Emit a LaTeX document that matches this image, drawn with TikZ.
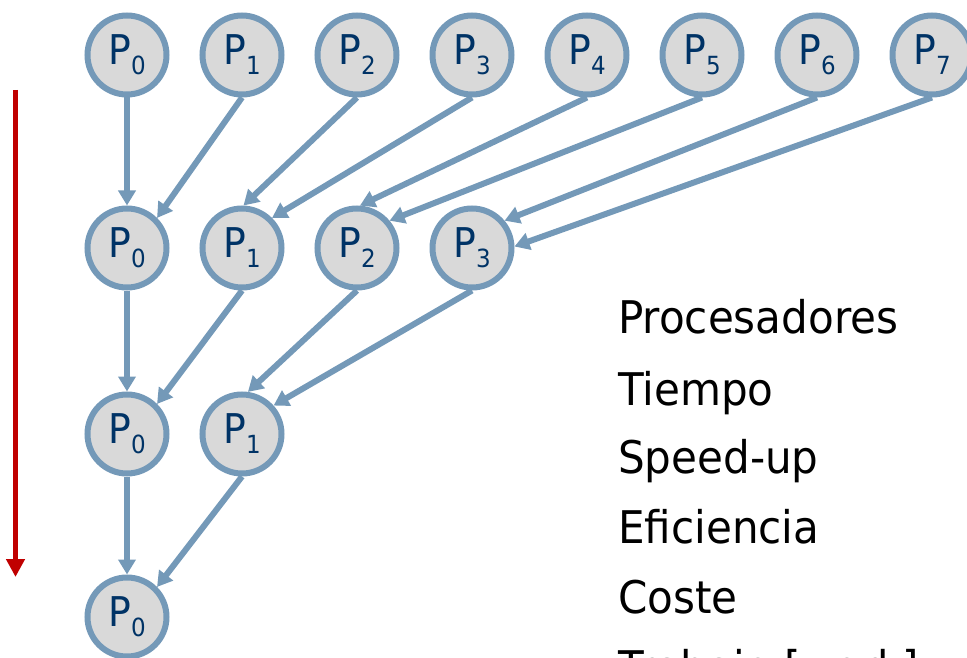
\documentclass[tikz,border=0pt]{standalone}
\usepackage{fontspec}
\setmainfont[FakeStretch=0.92]{DejaVu Sans}
\newfontfamily\listfont[FakeStretch=0.935]{DejaVu Sans}
\usetikzlibrary{arrows.meta}
\definecolor{edgeblue}{RGB}{116,153,184}
\definecolor{nodefill}{RGB}{217,217,217}
\definecolor{labelblue}{RGB}{0,51,102}
\definecolor{timered}{RGB}{192,0,0}
\newcommand{\procl}[1]{P\raisebox{-10pt}{\fontsize{25}{25}\selectfont #1}}
\begin{document}
\begin{tikzpicture}[x=1pt,y=-1pt,
  proc/.style={circle,draw=edgeblue,fill=nodefill,line width=6pt,minimum size=79pt,inner sep=0pt,
    text=labelblue,font=\fontsize{41}{41}\selectfont},
  link/.style={draw=edgeblue,line width=6pt,-{Triangle[length=15pt,width=17pt]}},
  item/.style={anchor=base west,inner sep=0pt,font=\listfont\fontsize{45}{45}\selectfont,text=black}]
\useasboundingbox (0,0) rectangle (967,658);
\clip (0,0) rectangle (967,658);
% row 1
\foreach \i in {0,...,7}{
  \node[proc] (a\i) at ({127+115*\i},55) {\procl{\i}};
}
% row 2
\foreach \i in {0,...,3}{
  \node[proc] (b\i) at ({127+115*\i},248) {\procl{\i}};
}
% row 3
\foreach \i in {0,1}{
  \node[proc] (c\i) at ({127+115*\i},434) {\procl{\i}};
}
% row 4
\node[proc] (d0) at (127,617) {\procl{0}};
% edges
\draw[link] (a0.south) -- (b0.north);
\draw[link] (a1.south) -- (b0.45);
\draw[link] (a2.south) -- (b1.88);
\draw[link] (a3.south) -- (b1.45);
\draw[link] (a4.south) -- (b2.86);
\draw[link] (a5.south) -- (b2.40);
\draw[link] (a6.south) -- (b3.40);
\draw[link] (a7.south) -- (b3.2);
\draw[link] (b0.south) -- (c0.north);
\draw[link] (b1.south) -- (c0.45);
\draw[link] (b2.south) -- (c1.82);
\draw[link] (b3.south) -- (c1.42);
\draw[link] (c0.south) -- (d0.north);
\draw[link] (c1.south) -- (d0.45);
% time arrow
\coordinate (tstart) at (15.5,90);
\coordinate (tend) at (15.5,577);
\draw[draw=timered,line width=5pt,-{Triangle[length=18pt,width=18pt]}] (tstart) -- (tend);
% list
\node[item] (l1) at (618,333) {Procesadores};
\node[item] (l2) at (618,405) {Tiempo};
\node[item] (l3) at (618,473) {Speed-up};
\node[item] (l4) at (618,543) {Eficiencia};
\node[item] (l5) at (618,613) {Coste};
\node[item] (l6) at (618,683) {Trabajo [work]};
\end{tikzpicture}
\end{document}
